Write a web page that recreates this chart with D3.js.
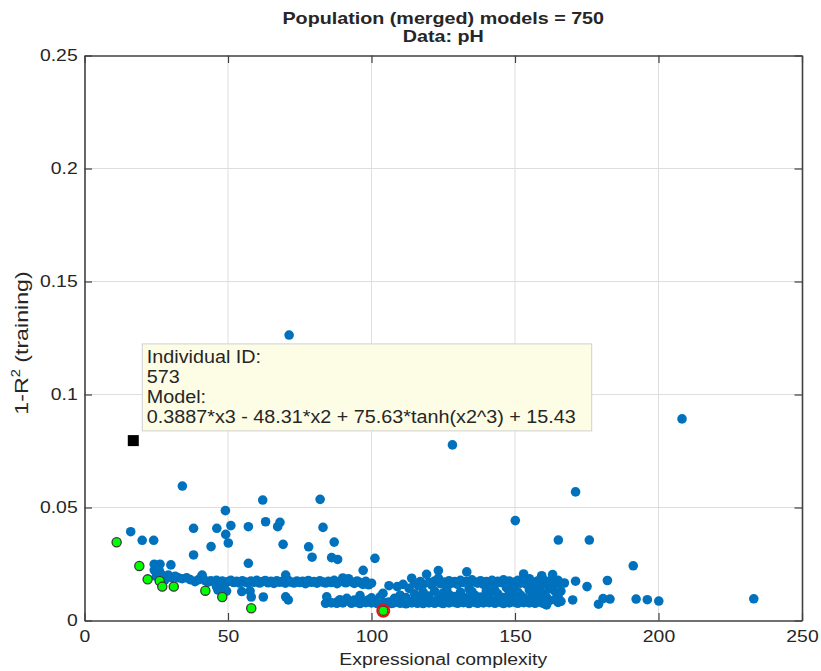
<!DOCTYPE html>
<html><head><meta charset="utf-8">
<script src="https://cdn.jsdelivr.net/npm/d3@7"></script>
<style>
body{margin:0;background:#fff;}
svg{display:block;}
text{font-family:"Liberation Sans",Arial,Helvetica,sans-serif;fill:#262626;}
</style></head><body>
<svg id="chart" width="821" height="671"></svg>
<script>
// ---------- data ----------
const titleLines = ["Population (merged) models = 750", "Data: pH"];
const xLabelText = "Expressional complexity";
const xTicks = [0, 50, 100, 150, 200, 250];
const xTickLabels = ["0", "50", "100", "150", "200", "250"];
const yTicks = [0, 0.05, 0.1, 0.15, 0.2, 0.25];
const yTickLabels = ["0", "0.05", "0.1", "0.15", "0.2", "0.25"];

// [complexity, 1-R^2]
const outlierModels = [
 [71.3,0.1263],[208.2,0.0892],[128.2,0.0777],[171.1,0.0569],[34.1,0.0595],[62.1,0.0533],[82.1,0.0536],
 [49.1,0.0486],[150.1,0.0442],[63.1,0.0437],[68.1,0.0434],[67.3,0.0415],[57.1,0.0415],[83.1,0.0412],
 [51.0,0.0420],[38.0,0.0408],[46.1,0.0408],[16.1,0.0393],[49.2,0.0381],[20.1,0.0355],[24.1,0.0355],
 [165.1,0.0356],[175.9,0.0356],[87.0,0.0347],[50.1,0.0343],[69.2,0.0337],[44.1,0.0327],[78.1,0.0326],
 [38.0,0.0290],[79.3,0.0280],[86.1,0.0278],[88.2,0.0270],[101.2,0.0275],[57.1,0.0253],[191.2,0.0242],
 [97.1,0.0222],[123.3,0.0221],[133.2,0.0215],[153.0,0.0206],[119.2,0.0204],[70.1,0.0201],[163.1,0.0203],
 [159.3,0.0198],[182.2,0.0177],[233.2,0.0096],[200.1,0.0086],[196.1,0.0092],[192.2,0.0095],[183.1,0.0095],
 [180.7,0.0097],[179.1,0.0072],[170.1,0.0091],[175.1,0.0150],[171.1,0.0174],[167.2,0.0166]
];
const leftBandModels = [
 [24.3,0.0249],[26.3,0.0249],[30.1,0.0246],[24.3,0.0223],[25.6,0.0208],[26.2,0.0216],[27.2,0.0199],
 [28.3,0.0193],[29.2,0.0201],[30.4,0.0190],[31.6,0.0196],[32.7,0.0189],[34.0,0.0185],[35.6,0.0189],
 [36.8,0.0181],[38.5,0.0172],[39.6,0.0180],[41.0,0.0201],[42.0,0.0177],[43.0,0.0170],[44.0,0.0176],
 [25.0,0.0195],[28.0,0.0180],[40.8,0.0194]
];
const upperBandModels = [
 [45,0.0172],[46,0.0178],[47,0.0168],[48,0.0175],[49,0.0165],[50,0.0172],[51,0.0178],[52,0.0168],
 [53,0.0174],[54,0.0166],[55,0.0176],[56,0.0170],[57,0.0165],[58,0.0175],[59,0.0169],[60,0.0178],
 [61,0.0166],[62,0.0172],[63,0.0177],[64,0.0167],[65,0.0173],[66,0.0164],[67,0.0176],[68,0.0169],
 [69,0.0174],[70,0.0165],[71,0.0178],[72,0.0170],[73,0.0166],[74,0.0175],[75,0.0168],[76,0.0173],
 [77,0.0163],[78,0.0177],[79,0.0169],[80,0.0172],[81,0.0165],[82,0.0176],[83,0.0170],[84,0.0166],
 [85,0.0174],[86,0.0168],[87,0.0178],[88,0.0163],[89,0.0172],[90,0.0188],[91,0.0167],[92,0.0185],
 [93,0.0171],[94,0.0164],[95,0.0175],[96,0.0168],[97,0.0160],[98,0.0173],[99,0.0158],[100,0.0165],
 [106.1,0.0154],[109,0.0150],[111,0.0160],[113.1,0.0142],[114,0.0187],[115,0.0165],[116.3,0.0154],
 [117,0.0172],[118,0.0160],[120,0.0168],[121,0.0157],[122,0.0175],[123.3,0.0187],[124,0.0163],
 [125,0.0170],[126.2,0.0139],[127,0.0176],[128,0.0165],[129,0.0172],[130,0.0160],[131,0.0178],
 [132,0.0168],[133,0.0174],[134,0.0162],[135,0.0180],[136,0.0170],[137,0.0165],[138,0.0176],
 [139,0.0160],[140,0.0172],[141,0.0167],[142,0.0178],[143,0.0162],[144,0.0173],[145,0.0168],
 [146,0.0180],[147,0.0164],[148,0.0175],[149,0.0160],[150,0.0170],[151,0.0178],[152,0.0165],
 [153,0.0172],[154,0.0160],[155,0.0185],[156,0.0170],[157,0.0163],[158,0.0176],[159,0.0167],
 [160,0.0180],[161,0.0160],[162,0.0172],[163,0.0185],[164,0.0165],[165,0.0178],[166,0.0162]
];
const lowerBandModels = [
 [85,0.0085],[86,0.0078],[88,0.0082],[89,0.0092],[90,0.0078],[92,0.0085],[93,0.0076],[94,0.0090],
 [95,0.0080],[96,0.0075],[97,0.0086],[98,0.0079],[99,0.0092],[100,0.0078],[101,0.0083],[102,0.0075],
 [103,0.0088],[105,0.0078],[106,0.0082],[107,0.0075],[108,0.0079],[109,0.0086],[110,0.0076],
 [111,0.0080],[112,0.0074],[113,0.0085],[114,0.0078],[115,0.0090],[116,0.0076],[117,0.0082],
 [118,0.0075],[119,0.0088],[120,0.0078],[121,0.0084],[122,0.0076],[123,0.0092],[124,0.0079],
 [125,0.0075],[126,0.0086],[127,0.0078],[128,0.0095],[129,0.0080],[130,0.0076],[131,0.0088],
 [132,0.0079],[133,0.0083],[134,0.0075],[135,0.0092],[136,0.0080],[137,0.0076],[138,0.0087],
 [139,0.0078],[140,0.0094],[141,0.0079],[142,0.0085],[143,0.0076],[144,0.0090],[145,0.0080],
 [146,0.0075],[147,0.0088],[148,0.0078],[149,0.0093],[150,0.0080],[151,0.0076],[152,0.0088],
 [153,0.0079],[154,0.0095],[155,0.0078],[156,0.0084],[157,0.0076],[158,0.0090],[159,0.0080],
 [160,0.0075],[161,0.0069],[162,0.0088],[163.9,0.0092],[165,0.0080],[166,0.0085]
];
const middleModels = [
 [46,0.0150],[46.5,0.0135],[48.5,0.0145],[49.5,0.0130],[54.8,0.0128],[57.7,0.0130],[58.1,0.0104],
 [62.3,0.0104],[70.1,0.0105],[71.0,0.0091],[84.4,0.0105],[84,0.0076],[87.9,0.0076],[91.4,0.0098],
 [96,0.0110],[104,0.0120],[118,0.0125],[122,0.0130],[127,0.0115],[131,0.0125],[136,0.0112],
 [140,0.0130],[144,0.0118],[148,0.0128],[152,0.0112],[156,0.0125],[160,0.0115],[164,0.0128],
 [134,0.0140],[142,0.0142],[150,0.0138],[158,0.0140],
 [100,0.0100],[103,0.0105],[108,0.0098],[110,0.0112],[112,0.0102],[115,0.0118],[117,0.0100],
 [120,0.0108],[124,0.0100],[125,0.0122],[129,0.0106],[133,0.0100],[135,0.0128],[138,0.0104],
 [141,0.0110],[143,0.0132],[146,0.0102],[147,0.0145],[149,0.0110],[151,0.0125],[153,0.0100],
 [155,0.0135],[157,0.0105],[159,0.0128],[161,0.0102],[162,0.0140],[165,0.0110],[166,0.0130]
];
const paretoModels = [
 [11.2,0.0346],[19.1,0.0241],[22.0,0.0182],[26.2,0.0175],[27.1,0.0150],[31.1,0.0150],
 [42.1,0.0132],[48.0,0.0104],[58.1,0.0054]
];
const selectedModel = [104.1, 0.0043];
const datatipModel = [17.0, 0.0796];
const datatipLines = ["Individual ID:", "573", "Model:", "0.3887*x3 - 48.31*x2 + 75.63*tanh(x2^3) + 15.43"];

// ---------- drawing ----------
const SX = 1.14; // horizontal glyph stretch of the reference font
const svg = d3.select("#chart");
const L = 84.5, R = 802, T = 55.5, B = 620.5;
const x = d3.scaleLinear().domain([0, 250]).range([L, R]);
const y = d3.scaleLinear().domain([0, 0.25]).range([B, T]);

// grid
const grid = svg.append("g").attr("stroke", "#dedede").attr("stroke-width", 1);
grid.selectAll(".gx").data(xTicks.slice(1, -1)).join("line")
  .attr("x1", d => x(d)).attr("x2", d => x(d)).attr("y1", T).attr("y2", B);
grid.selectAll(".gy").data(yTicks.slice(1, -1)).join("line")
  .attr("y1", d => y(d)).attr("y2", d => y(d)).attr("x1", L).attr("x2", R);

// points
const allBlue = outlierModels.concat(leftBandModels, upperBandModels, lowerBandModels, middleModels);
svg.append("g").selectAll("circle").data(allBlue).join("circle")
  .attr("cx", d => x(d[0])).attr("cy", d => y(d[1])).attr("r", 4.8)
  .attr("fill", "#0072BD");
svg.append("g").selectAll("circle").data(paretoModels).join("circle")
  .attr("cx", d => x(d[0])).attr("cy", d => y(d[1])).attr("r", 4.6)
  .attr("fill", "#00FF00").attr("stroke", "#3a3a3a").attr("stroke-width", 1.3);
svg.append("circle").attr("cx", x(selectedModel[0])).attr("cy", y(selectedModel[1])).attr("r", 4.6)
  .attr("fill", "#00FF00").attr("stroke", "#3a3a3a").attr("stroke-width", 1.2);
svg.append("circle").attr("cx", x(selectedModel[0])).attr("cy", y(selectedModel[1])).attr("r", 6)
  .attr("fill", "none").attr("stroke", "#ee1111").attr("stroke-width", 2);

// axes
function styleAxis(g) {
  g.select(".domain").attr("stroke", "#404040").attr("stroke-width", 1.6);
  g.selectAll(".tick line").attr("stroke", "#404040").attr("stroke-width", 1.2);
  g.selectAll(".tick text").attr("font-size", 17).attr("fill", "#262626")
    .attr("font-family", '"Liberation Sans",Arial,sans-serif')
    .attr("transform", `scale(${SX},1)`);
}
svg.append("g").attr("transform", `translate(0,${B})`)
  .call(d3.axisBottom(x).tickValues(xTicks).tickFormat((d, i) => xTickLabels[i]).tickSize(-7.5).tickSizeOuter(0).tickPadding(9))
  .call(styleAxis);
svg.append("g").attr("transform", `translate(0,${T})`)
  .call(d3.axisTop(x).tickValues(xTicks).tickFormat("").tickSize(-7.5).tickSizeOuter(0))
  .call(styleAxis);
svg.append("g").attr("transform", `translate(${L},0)`)
  .call(d3.axisLeft(y).tickValues(yTicks).tickFormat((d, i) => yTickLabels[i]).tickSize(-7.5).tickSizeOuter(0).tickPadding(6))
  .call(styleAxis);
svg.append("g").attr("transform", `translate(${R},0)`)
  .call(d3.axisRight(y).tickValues(yTicks).tickFormat("").tickSize(-7.5).tickSizeOuter(0))
  .call(styleAxis);

// titles and labels
const cx = (L + R) / 2;
titleLines.forEach((t, i) => {
  svg.append("text").attr("transform", `translate(${cx},${24 + i * 18}) scale(${SX},1)`)
    .attr("text-anchor", "middle").attr("font-size", 17.3).attr("font-weight", "bold")
    .attr("fill", "#000").text(t);
});
svg.append("text").attr("transform", `translate(${cx},665) scale(${SX},1)`)
  .attr("text-anchor", "middle").attr("font-size", 17).text(xLabelText);
const yl = svg.append("text").attr("transform", `translate(21,343) rotate(-90) scale(1.22,1)`)
  .attr("text-anchor", "middle").attr("y", 7).attr("font-size", 19);
yl.append("tspan").text("1-R");
yl.append("tspan").attr("font-size", 12).attr("dy", -8).text("2");
yl.append("tspan").attr("dy", 8).text(" (training)");

// datatip marker and box
const dx = x(datatipModel[0]), dy = y(datatipModel[1]);
svg.append("rect").attr("x", dx - 5.5).attr("y", dy - 5.5).attr("width", 11).attr("height", 11).attr("fill", "#000");
const bx = dx + 9, by = dy - 96.7;
svg.append("rect").attr("x", bx).attr("y", by).attr("width", 449.4).attr("height", 87)
  .attr("fill", "#fdfde6").attr("stroke", "#cfcfcf").attr("stroke-width", 1);
datatipLines.forEach((t, i) => {
  svg.append("text").attr("transform", `translate(${bx + 4.5},${by + 19.5 + i * 20}) scale(1.13,1)`)
    .attr("font-size", 17.5).attr("fill", "#000").text(t);
});
</script>
</body></html>
